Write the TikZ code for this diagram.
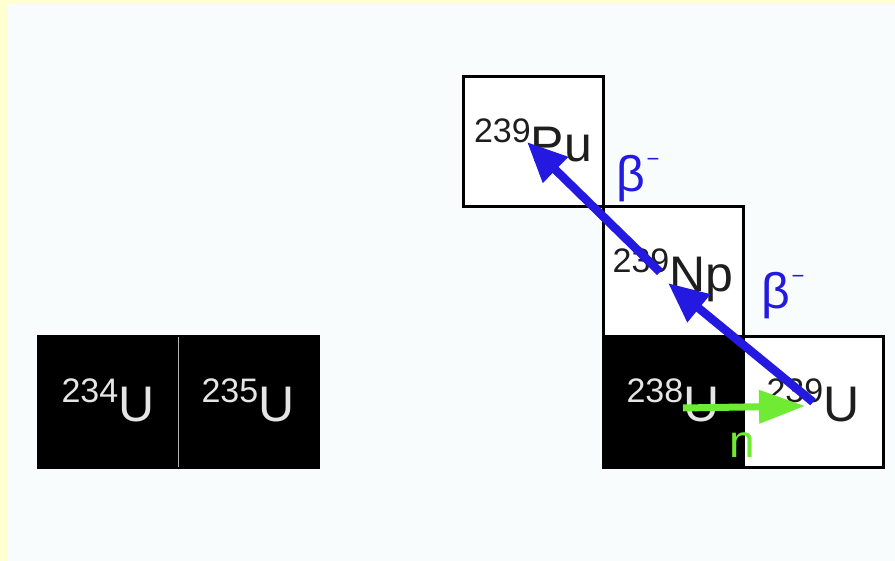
\documentclass[tikz,border=0pt]{standalone}
\usepackage{fontspec}
\setmainfont{Liberation Sans}
\usetikzlibrary{positioning,arrows.meta,calc}
\definecolor{frameyellow}{RGB}{255,255,208}
\definecolor{paper}{RGB}{248,252,252}
\definecolor{decayblue}{RGB}{35,25,225}
\definecolor{neutrongreen}{RGB}{110,235,50}
\definecolor{ink}{RGB}{30,30,30}
\newcommand{\nuc}[2]{\raisebox{19pt}{\fontsize{34}{34}\selectfont #1}{\fontsize{50}{50}\selectfont #2}}
\newcommand{\betaminus}{{\fontsize{50}{50}\selectfont β}\,\raisebox{25pt}{\fontsize{22}{22}\selectfont −}}
\tikzset{
  nuclide/.style={draw=black, line width=3pt, fill=white, text=ink,
    minimum width=140pt, minimum height=130pt, inner sep=0pt, outer sep=0pt,
    text height=40pt, text depth=0pt},
  stable/.style={nuclide, fill=black, text=white!90!black},
  decay/.style={-{Triangle[length=40pt,width=34pt]}, line width=8.5pt, decayblue},
  capture/.style={-{Triangle[length=46pt,width=32pt]}, line width=7pt, neutrongreen},
}
\begin{document}
\begin{tikzpicture}[x=1pt, y=-1pt]
    % Background
    \fill[frameyellow] (0,0) rectangle (895,561);
    \fill[paper] (8,4) rectangle (895,561);

    % Nuclide boxes
    \node[stable] (u238) at (673,402) {\nuc{238}{U}};
    \node[nuclide, right=0pt of u238] (u239) {\nuc{239}{U}};
    \node[nuclide, above=0pt of u238] (np239) {\nuc{239}{Np}};
    \node[nuclide, above left=0pt and 0pt of np239] (pu239) {\nuc{239}{Pu}};
    \node[stable, left=285pt of u238] (u235) {\nuc{235}{U}};
    \node[stable, left=0pt of u235] (u234) {\nuc{234}{U}};
    \draw[gray!60, line width=1pt] (u234.north east) -- (u234.south east);

    % Neutron capture and beta decays
    \draw[capture] ($(u238.center)+(10,6)$) -- ($(u239.center)+(-8,4)$);
    \draw[decay] (u239.center) -- ($(np239.center)+(-5,11)$);
    \draw[decay] ($(np239.center)+(-13,0)$) -- ($(pu239.center)+(-6,0)$);

    % Labels
    \node[text=decayblue, anchor=base west, inner sep=0pt] (beta1) at (616,192) {\betaminus};
    \node[text=decayblue, anchor=base west, inner sep=0pt] (beta2) at (761,309) {\betaminus};
    \node[text=neutrongreen, anchor=base, inner sep=0pt] (n) at (742,457) {\fontsize{46}{46}\selectfont n};
\end{tikzpicture}
\end{document}
